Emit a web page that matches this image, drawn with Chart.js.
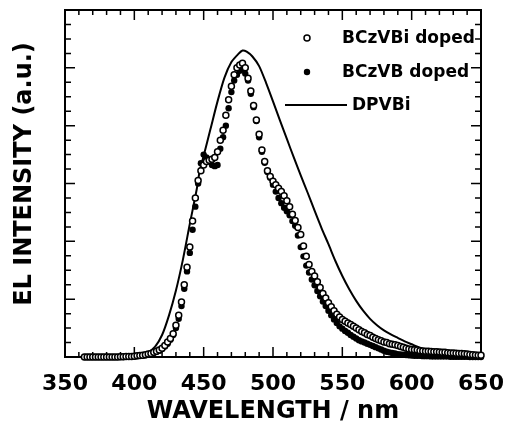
<!DOCTYPE html>
<html>
<head>
<meta charset="utf-8">
<script src="https://cdn.jsdelivr.net/npm/chart.js@4.4.1/dist/chart.umd.min.js"></script>
<style>
  html, body { margin: 0; padding: 0; background: #fff; }
  #wrap { width: 509px; height: 424px; position: relative; }
</style>
</head>
<body>
<div id="wrap"><canvas id="el-chart"></canvas></div>
<script>
// wavelength grid of the two doped spectra (nm)
const wavelengths = [
  364, 366, 368, 370, 372, 374, 376, 378, 380, 382,
  384, 386, 388, 390, 392, 394, 396, 398, 400, 402,
  404, 406, 408, 410, 412, 414, 416, 418, 420, 422,
  424, 426, 428, 430, 432, 434, 436, 438, 440, 442,
  444, 446, 448, 450, 452, 454, 456, 458, 460, 462,
  464, 466, 468, 470, 472, 474, 476, 478, 480, 482,
  484, 486, 488, 490, 492, 494, 496, 498, 500, 502,
  504, 506, 508, 510, 512, 514, 516, 518, 520, 522,
  524, 526, 528, 530, 532, 534, 536, 538, 540, 542,
  544, 546, 548, 550, 552, 554, 556, 558, 560, 562,
  564, 566, 568, 570, 572, 574, 576, 578, 580, 582,
  584, 586, 588, 590, 592, 594, 596, 598, 600, 602,
  604, 606, 608, 610, 612, 614, 616, 618, 620, 622,
  624, 626, 628, 630, 632, 634, 636, 638, 640, 642,
  644, 646, 648, 650
];

// open circles
const bczvbiDoped = [
  0, 0, 0, 0, 0, 0, 0, 0, 0, 0,
  0, 0, 0, 0.005, 0.005, 0.01, 0.01, 0.01, 0.015, 0.02,
  0.025, 0.03, 0.04, 0.05, 0.06, 0.08, 0.1, 0.12, 0.15, 0.2,
  0.26, 0.32, 0.4, 0.55, 0.72, 0.95, 1.25, 1.55, 1.9, 2.35,
  2.75, 3.05, 3.22, 3.32, 3.38, 3.4, 3.42, 3.45, 3.55, 3.75,
  3.92, 4.18, 4.45, 4.68, 4.88, 5.0, 5.05, 5.08, 5.0, 4.82,
  4.6, 4.35, 4.1, 3.85, 3.58, 3.38, 3.22, 3.12, 3.04, 2.98,
  2.92, 2.86, 2.79, 2.7, 2.6, 2.47, 2.36, 2.24, 2.12, 1.92,
  1.74, 1.6, 1.48, 1.4, 1.3, 1.2, 1.1, 1.02, 0.94, 0.87,
  0.8, 0.74, 0.69, 0.65, 0.62, 0.59, 0.56, 0.53, 0.5, 0.47,
  0.44, 0.42, 0.39, 0.37, 0.34, 0.32, 0.3, 0.28, 0.26, 0.25,
  0.23, 0.22, 0.21, 0.2, 0.18, 0.17, 0.15, 0.14, 0.13, 0.125,
  0.12, 0.11, 0.105, 0.1, 0.1, 0.095, 0.09, 0.09, 0.085, 0.08,
  0.08, 0.075, 0.07, 0.07, 0.065, 0.06, 0.06, 0.055, 0.05, 0.045,
  0.04, 0.035, 0.03, 0.03
];

// filled dots
const bczvbDoped = [
  0, 0, 0, 0, 0, 0, 0, 0, 0, 0,
  0, 0, 0, 0, 0, 0.005, 0.005, 0.01, 0.01, 0.015,
  0.02, 0.025, 0.03, 0.04, 0.05, 0.07, 0.09, 0.11, 0.14, 0.18,
  0.23, 0.3, 0.38, 0.5, 0.66, 0.88, 1.18, 1.48, 1.8, 2.2,
  2.6, 3.0, 3.35, 3.5, 3.45, 3.38, 3.32, 3.3, 3.32, 3.6,
  3.8, 4.0, 4.3, 4.58, 4.78, 4.88, 4.95, 4.97, 4.9, 4.78,
  4.55, 4.32, 4.08, 3.8, 3.55, 3.36, 3.2, 3.1, 2.98, 2.86,
  2.75, 2.66, 2.58, 2.52, 2.45, 2.35, 2.27, 2.1, 1.9, 1.74,
  1.58, 1.46, 1.34, 1.24, 1.14, 1.05, 0.96, 0.88, 0.8, 0.72,
  0.65, 0.59, 0.53, 0.49, 0.45, 0.42, 0.38, 0.35, 0.32, 0.29,
  0.27, 0.25, 0.23, 0.21, 0.19, 0.17, 0.15, 0.13, 0.11, 0.09,
  0.08, 0.07, 0.06, 0.05, 0.045, 0.04, 0.035, 0.03, 0.025, 0.02,
  0.02, 0.02, 0.015, 0.015, 0.015, 0.01, 0.01, 0.01, 0.01, 0.01,
  0.01, 0.01, 0.005, 0.005, 0.005, 0.005, 0.005, 0.005, 0.005, 0,
  0, 0, 0, 0
];

// solid line
const dpvbiWavelengths = [
  364, 380, 395, 400, 405, 410, 415, 420, 425, 430,
  435, 440, 445, 447, 450, 455, 460, 465, 470, 475,
  478, 481, 485, 490, 495, 500, 505, 510, 515, 520,
  525, 530, 535, 540, 545, 550, 555, 560, 565, 570,
  575, 580, 585, 590, 595, 600, 605, 610, 615, 620,
  630, 640, 650
];
const dpvbiIntensity = [
  0, 0, 0.005, 0.01, 0.03, 0.08, 0.18, 0.38, 0.72, 1.15,
  1.68, 2.3, 2.9, 3.2, 3.48, 3.95, 4.42, 4.83, 5.1, 5.24,
  5.3, 5.28, 5.2, 5.03, 4.74, 4.42, 4.09, 3.77, 3.45, 3.14,
  2.84, 2.53, 2.23, 1.95, 1.66, 1.4, 1.17, 0.97, 0.8, 0.66,
  0.55, 0.46, 0.39, 0.33, 0.27, 0.22, 0.17, 0.13, 0.1, 0.08,
  0.05, 0.03, 0.02
];

const xTickLabels = [350, 400, 450, 500, 550, 600, 650];
const seriesLabels = ["BCzVBi doped", "BCzVB doped", "DPVBi"];
const xTitle = "WAVELENGTH / nm";
const yTitle = "EL INTENSITY (a.u.)";

const FONT = "'DejaVu Sans', sans-serif";

function toPoints(xs, ys) {
  return xs.map((x, i) => ({ x: x, y: ys[i] }));
}

// box round the plot with inward ticks on all four sides
const frameTicks = {
  id: "frameTicks",
  beforeDatasetsDraw(chart) {
    const ctx = chart.ctx;
    const a = chart.chartArea;
    const xs = chart.scales.x;
    const ys = chart.scales.y;
    ctx.save();
    ctx.strokeStyle = "#000";
    ctx.lineWidth = 2;
    ctx.strokeRect(a.left, a.top, a.right - a.left, a.bottom - a.top);

    ctx.lineWidth = 1.5;
    ctx.beginPath();
    for (let v = xs.min; v <= xs.max + 0.001; v += 10) {
      const px = xs.getPixelForValue(v);
      const len = v % 50 === 0 ? 10 : 5;
      ctx.moveTo(px, a.bottom);
      ctx.lineTo(px, a.bottom - len);
      ctx.moveTo(px, a.top);
      ctx.lineTo(px, a.top + len);
    }
    for (let v = ys.min; v <= ys.max + 0.001; v += 0.25) {
      const py = ys.getPixelForValue(v);
      const len = Math.abs(v - Math.round(v)) < 0.01 ? 10 : 6;
      ctx.moveTo(a.left, py);
      ctx.lineTo(a.left + len, py);
      ctx.moveTo(a.right, py);
      ctx.lineTo(a.right - len, py);
    }
    ctx.stroke();
    ctx.restore();
  },
};

// legend inside the plot, plus the rotated y title
const insideLegend = {
  id: "insideLegend",
  afterDraw(chart) {
    const ctx = chart.ctx;
    const a = chart.chartArea;
    const sets = chart.data.datasets;
    ctx.save();
    ctx.fillStyle = "#000";
    ctx.strokeStyle = "#000";
    ctx.font = "bold 17px " + FONT;
    ctx.textBaseline = "middle";
    ctx.textAlign = "left";

    // open circle
    let y = a.top + 28;
    ctx.beginPath();
    ctx.arc(a.right - 174, y, 3, 0, Math.PI * 2);
    ctx.fillStyle = "#fff";
    ctx.fill();
    ctx.lineWidth = 1.5;
    ctx.stroke();
    ctx.fillStyle = "#000";
    ctx.fillText(sets[0].label, a.right - 139, y + 1);

    // filled dot
    y = a.top + 62;
    ctx.beginPath();
    ctx.arc(a.right - 174, y, 3.2, 0, Math.PI * 2);
    ctx.fill();
    ctx.fillText(sets[1].label, a.right - 139, y + 1);

    // line
    y = a.top + 95;
    ctx.lineWidth = 2;
    ctx.beginPath();
    ctx.moveTo(a.right - 196, y);
    ctx.lineTo(a.right - 134, y);
    ctx.stroke();
    ctx.fillText(sets[2].label, a.right - 129, y + 1);

    // y title
    ctx.font = "bold 24px " + FONT;
    ctx.textAlign = "center";
    ctx.translate(25, 174);
    ctx.rotate(-Math.PI / 2);
    ctx.fillText(yTitle, 0, 0);
    ctx.restore();
  },
};

new Chart(document.getElementById("el-chart"), {
  type: "scatter",
  data: {
    datasets: [
      {
        label: seriesLabels[0],
        data: toPoints(wavelengths, bczvbiDoped),
        pointRadius: 3,
        pointBorderWidth: 1.5,
        pointBackgroundColor: "#fff",
        pointBorderColor: "#000",
        clip: false,
      },
      {
        label: seriesLabels[1],
        data: toPoints(wavelengths, bczvbDoped),
        pointRadius: 3.2,
        pointBorderWidth: 0,
        pointBackgroundColor: "#000",
        pointBorderColor: "#000",
        clip: false,
      },
      {
        label: seriesLabels[2],
        data: toPoints(dpvbiWavelengths, dpvbiIntensity),
        showLine: true,
        pointRadius: 0,
        borderColor: "#000",
        borderWidth: 2,
        tension: 0.25,
        clip: false,
      },
    ],
  },
  options: {
    responsive: true,
    maintainAspectRatio: false,
    animation: false,
    layout: { padding: { top: 10, right: 28, bottom: 0, left: 0 } },
    plugins: {
      legend: { display: false },
      tooltip: { enabled: false },
    },
    scales: {
      x: {
        type: "linear",
        min: 350,
        max: 650,
        afterFit: (s) => {
          s.height = 67;
          s.paddingLeft = 0;
          s.paddingRight = 0;
        },
        afterBuildTicks: (s) => { s.ticks = xTickLabels.map((v) => ({ value: v })); },
        grid: { display: false, drawTicks: false },
        border: { display: false },
        ticks: {
          autoSkip: false,
          maxRotation: 0,
          padding: 14,
          color: "#000",
          font: { family: FONT, size: 22, weight: "bold" },
        },
        title: {
          display: true,
          text: xTitle,
          color: "#000",
          padding: 0,
          font: { family: FONT, size: 24, weight: "bold", lineHeight: 1 },
        },
      },
      y: {
        min: 0,
        max: 6,
        afterFit: (s) => { s.width = 65; },
        grid: { display: false, drawTicks: false },
        border: { display: false },
        ticks: { display: false },
        title: { display: false },
      },
    },
  },
  plugins: [frameTicks, insideLegend],
});
</script>
</body>
</html>
